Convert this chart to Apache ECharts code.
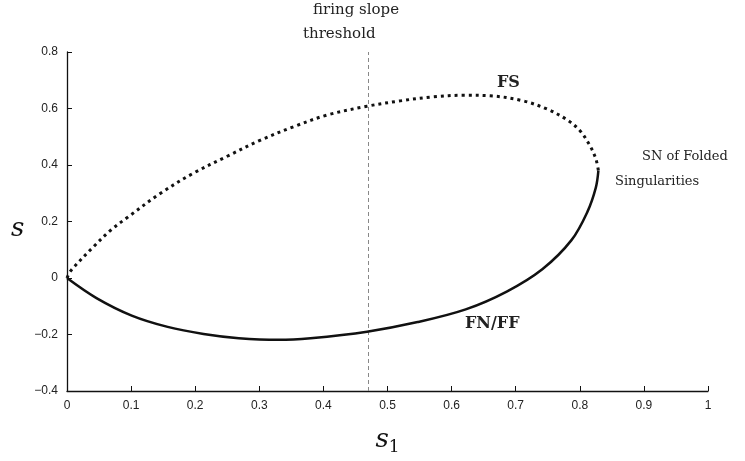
<!DOCTYPE html>
<html><head><meta charset="utf-8">
<script src="https://cdn.jsdelivr.net/npm/echarts@6/dist/echarts.min.js"></script>
<style>html,body{margin:0;padding:0;background:#fff}#c{width:745px;height:461px}</style>
</head><body><div id="c"></div>
<script>
// ---- data ----
const xTicks = [0, 0.1, 0.2, 0.3, 0.4, 0.5, 0.6, 0.7, 0.8, 0.9, 1];
const xTickLabels = ['0', '0.1', '0.2', '0.3', '0.4', '0.5', '0.6', '0.7', '0.8', '0.9', '1'];
const yTicks = [-0.4, -0.2, 0, 0.2, 0.4, 0.6, 0.8];
const yTickLabels = ['\u22120.4', '\u22120.2', '0', '0.2', '0.4', '0.6', '0.8'];

// FS branch (dotted, upper)
const fsS1 = [0, 0.006, 0.042, 0.068, 0.094, 0.146, 0.198, 0.250, 0.302, 0.354, 0.406, 0.468, 0.52, 0.57, 0.62, 0.66, 0.71, 0.75, 0.78, 0.80, 0.815, 0.825, 0.829];
const fsS  = [0, 0.026, 0.112, 0.169, 0.214, 0.300, 0.372, 0.431, 0.488, 0.536, 0.577, 0.608, 0.627, 0.641, 0.647, 0.645, 0.628, 0.597, 0.560, 0.522, 0.472, 0.422, 0.380];

// FN/FF branch (solid, lower)
const fnS1 = [0, 0.046, 0.101, 0.157, 0.213, 0.268, 0.330, 0.380, 0.468, 0.547, 0.622, 0.686, 0.742, 0.787, 0.812, 0.825, 0.829];
const fnS  = [0, -0.071, -0.133, -0.173, -0.198, -0.213, -0.219, -0.213, -0.190, -0.156, -0.111, -0.048, 0.032, 0.134, 0.235, 0.320, 0.380];

const thresholdS1 = 0.468;

// ---- chart ----
const pairs = (xs, ys) => xs.map((x, i) => [x, ys[i]]);
const lab = (ticks, labels) => v => {
  const i = ticks.findIndex(t => Math.abs(t - v) < 1e-9);
  return i >= 0 ? labels[i] : '';
};
const serif = '"DejaVu Serif", "Liberation Serif", serif';
const sans = '"Liberation Sans", Arial, sans-serif';
const chart = echarts.init(document.getElementById('c'));
chart.setOption({
  animation: false,
  backgroundColor: '#fff',
  grid: { left: 67, right: 37, top: 52, bottom: 58 },
  xAxis: {
    type: 'value', min: 0, max: 1, interval: 0.1,
    axisLine: { show: true, onZero: false, lineStyle: { color: '#111', width: 1.3 } },
    axisTick: { show: true, inside: true, length: 5, lineStyle: { color: '#111' } },
    splitLine: { show: false },
    axisLabel: { formatter: lab(xTicks, xTickLabels), fontSize: 12, fontFamily: sans, color: '#222', margin: 9 },
    name: '{s|s}{sub|1}', nameLocation: 'middle', nameGap: 34,
    nameTextStyle: {
      rich: {
        s: { fontSize: 26, fontStyle: 'italic', fontFamily: serif, color: '#111' },
        sub: { fontSize: 17, fontFamily: serif, color: '#111', padding: [14, 0, 0, 0] }
      }
    }
  },
  yAxis: {
    type: 'value', min: -0.4, max: 0.8, interval: 0.2,
    axisLine: { show: true, onZero: false, lineStyle: { color: '#111', width: 1.3 } },
    axisTick: { show: true, inside: true, length: 5, lineStyle: { color: '#111' } },
    splitLine: { show: false },
    axisLabel: { formatter: lab(yTicks, yTickLabels), fontSize: 12, fontFamily: sans, color: '#222', margin: 9 }
  },
  series: [
    {
      type: 'line', data: pairs(fsS1, fsS), showSymbol: false, symbol: 'none',
      smooth: 0.35,
      lineStyle: { color: '#111', width: 3, type: [3, 4], cap: 'butt' },
      z: 3
    },
    {
      type: 'line', data: pairs(fnS1, fnS), showSymbol: false, symbol: 'none',
      smooth: 0.35,
      lineStyle: { color: '#111', width: 2.5 },
      z: 3,
      markLine: {
        silent: true, symbol: ['none', 'none'], label: { show: false }, z: 1,
        lineStyle: { color: '#888', width: 1, type: [4, 3] },
        data: [{ xAxis: thresholdS1 }]
      }
    }
  ],
  graphic: [
    { type: 'text', left: 11, top: 216, style: { text: 's', font: 'italic 26px ' + serif, fill: '#111' } },
    { type: 'text', left: 313, top: 3, style: { text: 'firing slope', font: '15px ' + serif, fill: '#222' } },
    { type: 'text', left: 303, top: 27, style: { text: 'threshold', font: '15px ' + serif, fill: '#222' } },
    { type: 'text', left: 497, top: 75, style: { text: 'FS', font: 'bold 16px ' + serif, fill: '#222' } },
    { type: 'text', left: 642, top: 150, style: { text: 'SN of Folded', font: '13px ' + serif, fill: '#222' } },
    { type: 'text', left: 615, top: 175, style: { text: 'Singularities', font: '13px ' + serif, fill: '#222' } },
    { type: 'text', left: 465, top: 316, style: { text: 'FN/FF', font: 'bold 16px ' + serif, fill: '#222' } }
  ]
});
</script></body></html>
